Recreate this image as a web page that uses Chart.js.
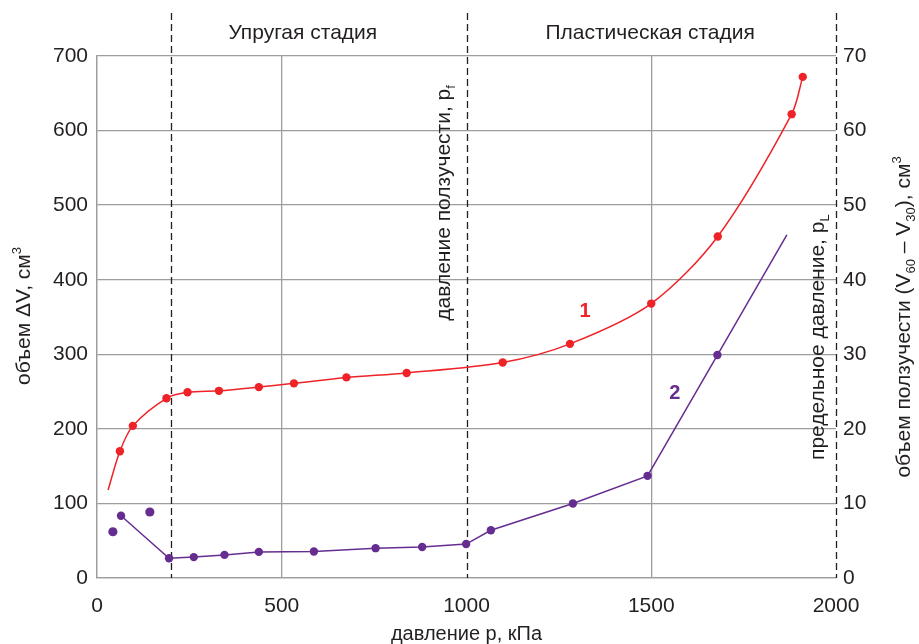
<!DOCTYPE html>
<html>
<head>
<meta charset="utf-8">
<script src="https://cdn.jsdelivr.net/npm/chart.js@4.4.1/dist/chart.umd.min.js"></script>
<style>
  html, body { margin: 0; padding: 0; background: #fff; }
  #wrap { width: 919px; height: 644px; }
</style>
</head>
<body>
<div id="wrap"><canvas id="chart"></canvas></div>
<script>
// кривая 1: объем ΔV, см3 (левая ось)
const volP = [30, 62, 97, 188, 245, 330, 438, 533, 675, 838, 1098, 1280, 1500, 1680, 1880, 1910];
const volV = [118, 170, 204, 241, 249, 251, 256, 261, 269, 275, 289, 314, 368, 458, 622, 672];

// кривая 2: объем ползучести (V60 - V30), см3 (правая ось)
const creepP = [65, 195, 262, 345, 438, 587, 754, 880, 999, 1066, 1288, 1490, 1679, 1867];
const creepV = [8.35, 2.65, 2.8, 3.1, 3.5, 3.55, 4.0, 4.15, 4.55, 6.4, 10.0, 13.7, 29.9, 46.0];

// отдельные точки без линии
const looseP = [43, 143];
const looseV = [6.2, 8.85];

// границы стадий (пунктир)
const stageLines = [200, 1000, 2000];

const RED = "#ee2227";
const PURPLE = "#662d91";
const GRID = "#9d9d9d";
const TEXT = "#231f20";
const FONT = "'Liberation Sans', Arial, Helvetica, sans-serif";

Chart.defaults.font.family = FONT;
Chart.defaults.color = TEXT;

const pts = (xs, ys) => xs.map((x, i) => ({ x: x, y: ys[i] }));

// текст с индексами: parts = [[text, "n" | "sub" | "sup"], ...]
function richText(ctx, x, y, parts, size, vertical) {
  ctx.save();
  ctx.translate(x, y);
  if (vertical) ctx.rotate(-Math.PI / 2);
  ctx.fillStyle = TEXT;
  ctx.textBaseline = "alphabetic";
  ctx.textAlign = "left";
  const small = Math.round(size * 0.62);
  const fontOf = k => (k === "n" ? size : small) + "px " + FONT;
  let total = 0;
  parts.forEach(([t, k]) => { ctx.font = fontOf(k); total += ctx.measureText(t).width; });
  let cx = -total / 2;
  const base = size * 0.36;
  parts.forEach(([t, k]) => {
    ctx.font = fontOf(k);
    const dy = k === "sub" ? size * 0.25 : k === "sup" ? -size * 0.4 : 0;
    ctx.fillText(t, cx, base + dy);
    cx += ctx.measureText(t).width;
  });
  ctx.restore();
}

const overlay = {
  id: "overlay",
  beforeDatasetsDraw(chart) {
    const { ctx, chartArea: a, scales: { x } } = chart;
    ctx.save();
    ctx.strokeStyle = TEXT;
    ctx.lineWidth = 1.3;
    ctx.setLineDash([7, 4]);
    stageLines.forEach(p => {
      const px = Math.round(x.getPixelForValue(p)) + 0.5;
      ctx.beginPath();
      ctx.moveTo(px, a.top - 43);
      ctx.lineTo(px, a.bottom);
      ctx.stroke();
    });
    ctx.restore();
  },
  afterDraw(chart) {
    const { ctx, chartArea: a, scales: { x, y } } = chart;
    ctx.save();
    ctx.fillStyle = TEXT;
    ctx.textAlign = "center";
    ctx.textBaseline = "middle";
    ctx.font = "21px " + FONT;
    ctx.fillText("Упругая стадия", x.getPixelForValue(557), a.top - 23);
    ctx.fillText("Пластическая стадия", x.getPixelForValue(1497), a.top - 23);

    ctx.font = "bold 20px " + FONT;
    ctx.fillStyle = RED;
    ctx.fillText("1", x.getPixelForValue(1321), y.getPixelForValue(358));
    ctx.fillStyle = PURPLE;
    ctx.fillText("2", x.getPixelForValue(1564), y.getPixelForValue(248));
    ctx.restore();

    richText(ctx, x.getPixelForValue(934), y.getPixelForValue(503),
      [["давление ползучести, p", "n"], ["f", "sub"]], 21, true);
    richText(ctx, x.getPixelForValue(1946), y.getPixelForValue(323),
      [["предельное давление, p", "n"], ["L", "sub"]], 21, true);

    const midY = (a.top + a.bottom) / 2;
    richText(ctx, 22, midY - 1,
      [["объем ΔV, см", "n"], ["3", "sup"]], 21, true);
    richText(ctx, 902, midY,
      [["объем ползучести (V", "n"], ["60", "sub"], [" – V", "n"], ["30", "sub"], ["), см", "n"], ["3", "sup"]], 21, true);
    richText(ctx, (a.left + a.right) / 2, a.bottom + 55,
      [["давление p, кПа", "n"]], 20, false);
  }
};

new Chart(document.getElementById("chart"), {
  type: "scatter",
  data: {
    datasets: [
      {
        data: pts(volP, volV),
        yAxisID: "y",
        showLine: true,
        tension: 0.3,
        borderColor: RED,
        backgroundColor: RED,
        borderWidth: 1.5,
        pointRadius: volP.map((_, i) => (i === 0 ? 0 : 4.2)),
        pointBorderWidth: 0,
        pointHoverRadius: 0
      },
      {
        data: pts(creepP, creepV),
        yAxisID: "y2",
        showLine: true,
        tension: 0,
        borderColor: PURPLE,
        backgroundColor: PURPLE,
        borderWidth: 1.5,
        pointRadius: creepP.map((_, i) => (i === creepP.length - 1 ? 0 : 4.2)),
        pointBorderWidth: 0,
        pointHoverRadius: 0
      },
      {
        data: pts(looseP, looseV),
        yAxisID: "y2",
        showLine: false,
        backgroundColor: PURPLE,
        borderColor: PURPLE,
        pointRadius: 4.6,
        pointBorderWidth: 0,
        pointHoverRadius: 0
      }
    ]
  },
  options: {
    responsive: true,
    maintainAspectRatio: false,
    animation: false,
    layout: { padding: { top: 56, left: 0, right: 0, bottom: 0 } },
    scales: {
      x: {
        type: "linear",
        min: 0,
        max: 2000,
        ticks: { stepSize: 500, color: TEXT, font: { size: 21 }, padding: 16, callback: v => String(v) },
        grid: {
          color: c => (c.tick && (c.tick.value === 1000 || c.tick.value === 2000) ? "rgba(0,0,0,0)" : GRID),
          lineWidth: 1.3,
          drawTicks: false
        },
        border: { color: GRID, width: 1.3 },
        afterFit: s => { s.height = 66; }
      },
      y: {
        position: "left",
        min: 0,
        max: 700,
        ticks: { stepSize: 100, color: TEXT, font: { size: 21 }, padding: 9 },
        grid: { color: GRID, lineWidth: 1.3, drawTicks: false },
        border: { color: GRID, width: 1.3 },
        afterFit: s => { s.width = 97; }
      },
      y2: {
        position: "right",
        min: 0,
        max: 70,
        ticks: { stepSize: 10, color: TEXT, font: { size: 21 }, padding: 7 },
        grid: { drawOnChartArea: false, drawTicks: false },
        border: { display: false },
        afterFit: s => { s.width = 83; }
      }
    },
    plugins: {
      legend: { display: false },
      tooltip: { enabled: false }
    }
  },
  plugins: [overlay]
});
</script>
</body>
</html>
